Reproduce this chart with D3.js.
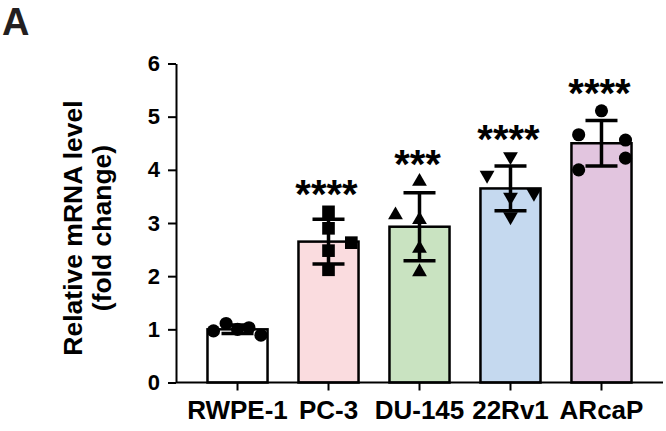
<!DOCTYPE html>
<html>
<head>
<meta charset="utf-8">
<script src="https://cdn.jsdelivr.net/npm/d3@7"></script>
<style>
    body { margin: 0; background: #ffffff; }
    text { font-family: Arial, "Liberation Sans", sans-serif; font-weight: bold; }
</style>
</head>
<body>
<div id="chart"></div>
<script>
// Set chart dimensions
var chartWidth = 666;
var chartHeight = 431;
var margin = { top: 63.5, right: 3, bottom: 48.5, left: 176 };

// Hardcoded data
var categories = ["RWPE-1", "PC-3", "DU-145", "22Rv1", "ARcaP"];
var meanValues = [1.00, 2.65, 2.93, 3.65, 4.50];
var sdValues = [0.08, 0.42, 0.64, 0.42, 0.43];
var replicateValues = [
    [0.97, 1.11, 1.00, 1.03, 0.89],
    [3.21, 2.90, 2.48, 2.12, 2.63],
    [3.15, 3.78, 3.06, 2.52, 2.08],
    [3.90, 4.25, 3.49, 3.12, 3.56],
    [4.66, 5.11, 4.56, 4.22, 4.00]
];
// horizontal scatter of replicates, as a fraction of bar width
var replicateJitter = [
    [-0.40, -0.19, 0, 0.19, 0.39],
    [0, 0, 0, 0, 0.38],
    [-0.40, 0, 0, 0, 0],
    [-0.39, 0, 0, 0, 0.39],
    [-0.38, 0, 0.40, 0.40, -0.38]
];
var significance = ["", "****", "***", "****", "****"];
var yTicks = [0, 1, 2, 3, 4, 5, 6];

// Bar fills and marker shapes
var barColors = ["#ffffff", "#fadcdf", "#c9e3c1", "#c5d9ef", "#e2c5df"];
var markerShapes = ["circle", "square", "triangle", "triangleDown", "circle"];

var svg = d3.select("#chart")
    .append("svg")
    .attr("width", chartWidth)
    .attr("height", chartHeight);

// Scales
var xScale = d3.scaleBand()
    .domain(categories)
    .range([margin.left, chartWidth - margin.right])
    .paddingInner(0.34)
    .paddingOuter(0.346);

var yScale = d3.scaleLinear()
    .domain([0, 6])
    .range([chartHeight - margin.bottom, margin.top]);

var bw = xScale.bandwidth();

// Panel letter
svg.append("text")
    .attr("x", 2)
    .attr("y", 34.5)
    .attr("font-size", "38px")
    .attr("fill", "#231f20")
    .text("A");

// Bars
svg.selectAll("rect.bar")
    .data(categories)
    .enter()
    .append("rect")
    .attr("class", "bar")
    .attr("x", d => xScale(d))
    .attr("y", (d, i) => yScale(meanValues[i]))
    .attr("width", bw)
    .attr("height", (d, i) => yScale(0) - yScale(meanValues[i]))
    .attr("fill", (d, i) => barColors[i])
    .attr("stroke", "#000")
    .attr("stroke-width", 2.5);

// Error bars (mean +/- SD)
var capHalf = 16;
var errGroups = svg.selectAll("g.err")
    .data(categories)
    .enter()
    .append("g")
    .attr("class", "err")
    .attr("transform", d => "translate(" + (xScale(d) + bw / 2) + ",0)");

errGroups.append("line")
    .attr("y1", (d, i) => yScale(meanValues[i] + sdValues[i]))
    .attr("y2", (d, i) => yScale(meanValues[i] - sdValues[i]))
    .attr("stroke", "#000")
    .attr("stroke-width", 3.5);

errGroups.append("line")
    .attr("x1", -capHalf).attr("x2", capHalf)
    .attr("y1", (d, i) => yScale(meanValues[i] + sdValues[i]))
    .attr("y2", (d, i) => yScale(meanValues[i] + sdValues[i]))
    .attr("stroke", "#000")
    .attr("stroke-width", 3.5);

errGroups.append("line")
    .attr("x1", -capHalf).attr("x2", capHalf)
    .attr("y1", (d, i) => yScale(meanValues[i] - sdValues[i]))
    .attr("y2", (d, i) => yScale(meanValues[i] - sdValues[i]))
    .attr("stroke", "#000")
    .attr("stroke-width", 3.5);

// Replicate points
function markerPath(shape) {
    if (shape === "square") return d3.symbol(d3.symbolSquare, 160)();
    if (shape === "triangle" || shape === "triangleDown") return d3.symbol(d3.symbolTriangle, 95)();
    return d3.symbol(d3.symbolCircle, 135)();
}

var points = [];
categories.forEach((c, i) => {
    replicateValues[i].forEach((v, j) => {
        points.push({ cat: c, idx: i, value: v, jitter: replicateJitter[i][j] });
    });
});

svg.selectAll("path.pt")
    .data(points)
    .enter()
    .append("path")
    .attr("class", "pt")
    .attr("d", d => markerPath(markerShapes[d.idx]))
    .attr("transform", d => {
        var px = xScale(d.cat) + bw / 2 + d.jitter * bw;
        var rot = markerShapes[d.idx] === "triangleDown" ? " rotate(180)" : "";
        return "translate(" + px + "," + yScale(d.value) + ")" + rot;
    })
    .attr("fill", "#000");

// Significance stars above highest replicate
svg.selectAll("text.sig")
    .data(categories)
    .enter()
    .append("text")
    .attr("class", "sig")
    .attr("x", d => xScale(d) + bw / 2 - 2)
    .attr("y", (d, i) => yScale(d3.max(replicateValues[i])) - 19 + 0.39 * 40)
    .attr("text-anchor", "middle")
    .attr("font-size", "40px")
    .text((d, i) => significance[i]);

// Axes
var yAxis = d3.axisLeft(yScale)
    .tickValues(yTicks)
    .tickFormat(d3.format("d"))
    .tickSize(8)
    .tickSizeOuter(0)
    .tickPadding(8);

var xAxis = d3.axisBottom(xScale)
    .tickSize(8)
    .tickSizeOuter(0)
    .tickPadding(10);

var gy = svg.append("g")
    .attr("transform", "translate(" + margin.left + ",0)")
    .call(yAxis);

var gx = svg.append("g")
    .attr("transform", "translate(0," + yScale(0) + ")")
    .call(xAxis);

gx.select(".domain").attr("d", "M" + margin.left + ",0H" + (chartWidth - margin.right));

[gx, gy].forEach(g => {
    g.select(".domain").attr("stroke", "#000").attr("stroke-width", 2);
    g.selectAll(".tick line").attr("stroke", "#000").attr("stroke-width", 2);
    g.selectAll(".tick text")
        .attr("fill", "#000")
        .style("font-family", "Arial, 'Liberation Sans', sans-serif")
        .style("font-weight", "bold");
});
gy.selectAll(".tick text").attr("font-size", "22px");
gx.selectAll(".tick text").attr("font-size", "26px");

// Y axis title, two lines
var yTitle = svg.append("text")
    .attr("transform", "translate(0," + 228 + ") rotate(-90)")
    .attr("text-anchor", "middle")
    .attr("font-size", "26.5px")
    .attr("fill", "#000");

yTitle.append("tspan").attr("x", 0).attr("y", 82).text("Relative mRNA level");
yTitle.append("tspan").attr("x", 0).attr("y", 111).text("(fold change)");
</script>
</body>
</html>
